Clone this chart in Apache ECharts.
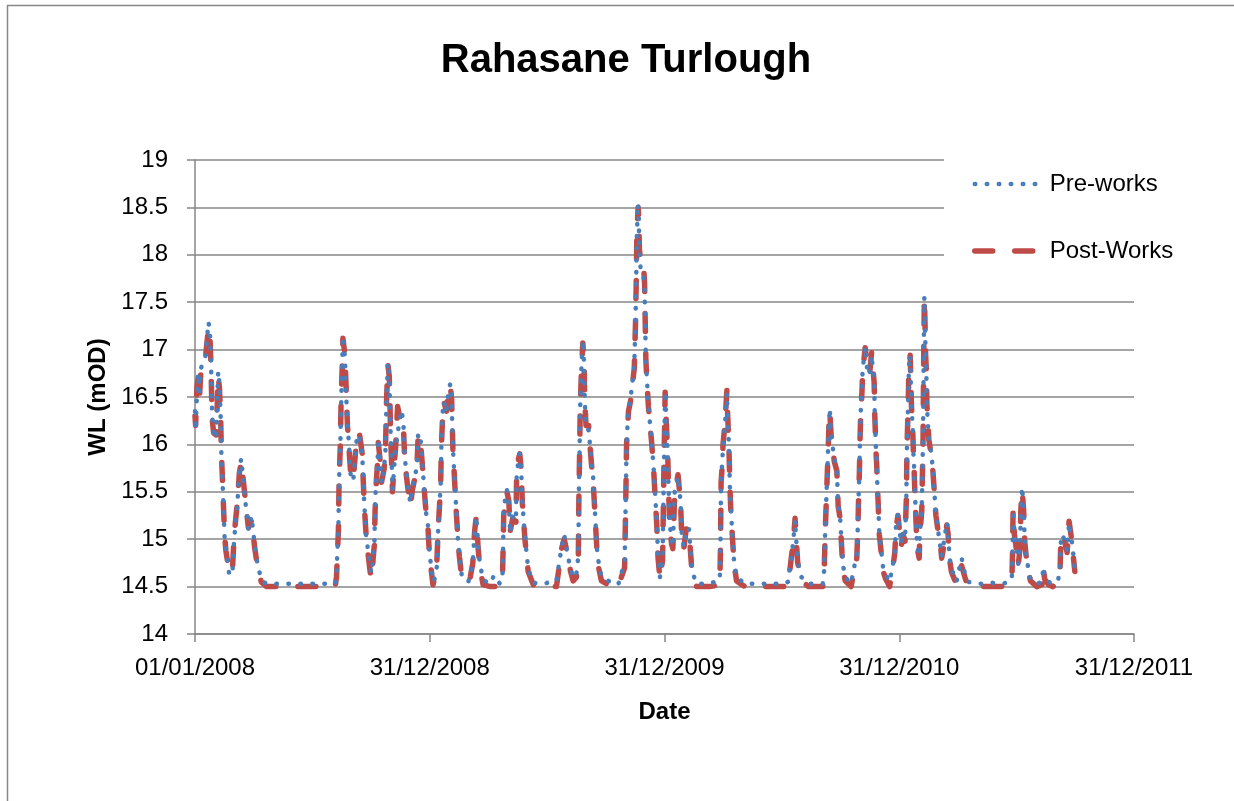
<!DOCTYPE html>
<html>
<head>
<meta charset="utf-8">
<title>Rahasane Turlough</title>
<script src="https://cdn.jsdelivr.net/npm/echarts@6/dist/echarts.min.js"></script>
<style>
  html, body { margin: 0; padding: 0; background: #ffffff; }
  #chart { width: 1234px; height: 801px; }
</style>
</head>
<body>
<div id="chart"></div>
<script>
// Day offsets from 01/01/2008 of each water-level reading
const days = [
  0,1,3,5,7,9,12,16,21,23,25,26,27,29,33,36,38,40,41,42,44,46,48,53,58,61,66,69,72,77,83,88,93,97,103,111,130,150,170,190,210,218,
  220,223,224,226,227,229,230,233,235,237,239,242,246,252,256,260,262,263,266,269,273,275,277,279,280,282,284,285,288,290,294,296,298,300,302,303,304,306,307,309,312,315,318,321,324,326,329,332,335,338,345,347,351,355,359,362,364,366,370,373,376,378,381,382,383,385,387,391,394,397,
  399,400,401,402,403,406,409,411,415,425,428,432,433,435,437,439,440,443,448,459,465,474,478,479,480,483,485,488,490,494,499,500,503,505,507,509,513,515,518,526,544,555,562,
  565,570,574,578,584,588,593,596,597,598,599,601,603,605,606,608,612,614,617,619,622,625,627,632,643,658,668,670,671,674,677,683,685,686,687,689,690,691,693,697,699,700,701,702,705,710,713,715,718,720,723,727,729,731,733,735,736,738,741,743,745,746,751,
  755,757,760,764,768,772,775,780,800,816,817,818,820,821,824,827,828,830,832,833,836,838,842,855,875,895,915,922,924,928,930,933,935,937,939,943,954,
  976,978,980,982,984,985,986,987,989,994,998,1000,1003,1006,1008,1011,1020,1029,1031,1032,1033,1034,1035,1037,1038,1042,1043,1045,1049,1052,1054,1056,1057,1059,1060,1061,1062,1064,1066,1070,1074,1080,1085,1088,1090,1093,1096,1098,1101,1104,1106,1107,1109,1110,1112,1113,1114,1116,1117,1118,1119,1120,1122,1123,1126,1127,1129,1130,1131,1132,1133,1134,1135,1136,1137,1138,1140,1141,1144,1147,1149,1152,1156,
  1158,1161,1164,1169,1171,1173,1176,1184,1189,1192,1197,1202,1220,1239,1257,1270,1271,1272,1274,1278,1280,1283,1284,1286,1288,1289,1290,1292,1296,1299,1309,1317,1319,1321,1327,1334,1342,1345,1346,1347,1352,1356,1359,1363,1365,1368
];

// Water level (mOD) before the works
const preWorks = [
  16.35,16.15,16.55,16.75,16.55,16.8,16.82,16.92,17.29,17.2,16.85,16.47,16.27,16.1,16.06,16.77,16.64,16.27,15.9,15.76,15.39,15.02,14.9,14.64,14.62,15.01,15.38,15.75,15.85,15.48,15.1,15.24,14.92,14.75,14.57,14.53,14.53,14.53,14.53,14.53,14.53,14.53,
  14.64,15.13,15.64,16.01,16.38,16.87,17.14,16.93,16.55,16.17,16.05,15.68,15.61,16.10,16.08,15.91,15.55,15.40,15.03,14.89,14.68,14.64,14.86,14.97,15.36,15.66,15.84,16.06,15.85,15.59,15.76,15.91,16.52,16.86,16.73,16.47,16.15,15.76,15.52,15.69,15.96,16.12,16.24,16.36,16.24,15.87,15.69,15.50,15.38,15.55,15.76,16.12,16.03,15.66,15.29,15.17,14.92,14.78,14.55,14.59,14.71,15.08,15.45,15.59,15.96,16.33,16.45,16.34,16.57,16.64,
  16.5,16.2,15.96,15.84,15.71,15.34,14.97,14.85,14.60,14.55,14.64,14.76,14.88,15.11,15.24,15.1,14.94,14.74,14.57,14.53,14.62,14.53,14.6,14.9,15.27,15.48,15.52,15.38,15.06,15.24,15.2,15.64,15.85,15.9,15.76,15.39,15.02,14.89,14.69,14.54,14.53,14.56,14.56,
  14.55,14.92,15.05,14.89,14.68,14.59,14.64,14.82,15.55,15.94,16.43,16.84,17.10,16.85,16.47,16.17,16.15,16.01,15.78,15.66,15.27,14.90,14.78,14.60,14.56,14.52,14.76,15.52,16.01,16.38,16.47,16.84,17.33,17.73,18.21,18.54,18.4,18.03,17.84,17.80,17.63,17.26,16.89,16.77,16.40,16.03,15.76,15.53,15.17,14.81,14.60,14.80,15.69,16.56,16.2,15.9,15.62,15.17,15.0,14.92,15.34,15.52,15.66,
  15.40,15.03,14.92,15.11,15.11,14.74,14.62,14.53,14.53,14.57,14.94,15.66,15.82,16.0,16.2,16.54,16.33,16.01,15.48,15.34,14.99,14.78,14.60,14.53,14.53,14.53,14.53,14.55,14.66,14.85,14.96,15.2,14.97,14.78,14.71,14.6,14.53,
  14.53,14.64,15.13,15.5,15.87,16.08,16.26,16.38,16.1,15.85,15.73,15.36,15.24,14.87,14.71,14.6,14.53,14.85,15.22,15.5,15.71,16.08,16.33,16.57,16.78,17.03,17.05,16.8,16.73,16.94,16.8,16.68,16.29,15.92,15.80,15.55,15.43,15.06,14.94,14.69,14.62,14.55,14.73,14.85,15.15,15.27,15.06,14.95,15.08,15.0,15.45,15.98,16.47,16.82,16.94,16.68,16.4,16.17,15.9,15.78,15.55,15.39,15.03,14.92,14.82,15.06,15.06,15.31,15.69,16.08,16.92,17.56,17.3,16.92,16.8,16.41,16.41,16.04,15.94,15.76,15.55,15.27,15.06,
  15.04,14.82,14.95,15.18,15.06,14.82,14.69,14.55,14.71,14.80,14.64,14.55,14.53,14.54,14.53,14.57,14.85,15.31,15.08,14.88,14.74,14.94,15.31,15.55,15.36,15.24,14.99,14.86,14.67,14.58,14.53,14.55,14.71,14.6,14.55,14.53,14.57,14.68,14.93,15.05,15.0,14.88,15.17,15.0,14.88,14.67
];

// Water level (mOD) after the works
const postWorks = [
  16.3,16.2,16.6,16.7,16.5,16.75,16.8,16.9,17.23,17.18,16.8,16.45,16.25,16.12,16.1,16.72,16.6,16.25,15.92,15.75,15.4,15.05,14.88,14.66,14.65,15.05,15.4,15.7,15.82,15.5,15.12,15.2,14.9,14.72,14.55,14.5,14.5,14.5,14.5,14.5,14.5,14.5,
  14.6,15.1,15.6,16.0,16.4,16.85,17.12,16.95,16.6,16.2,16.0,15.7,15.62,16.12,16.1,15.9,15.55,15.38,15.05,14.85,14.62,14.58,14.8,14.95,15.3,15.62,15.82,16.02,15.82,15.6,15.74,15.9,16.5,16.84,16.72,16.5,16.12,15.75,15.5,15.72,15.98,16.4,16.3,16.3,16.2,15.85,15.65,15.48,15.35,15.52,15.75,16.1,16.0,15.65,15.3,15.15,14.9,14.75,14.52,14.6,14.75,15.1,15.45,15.6,15.95,16.3,16.45,16.35,16.55,16.62,
  16.48,16.22,15.95,15.82,15.7,15.32,14.98,14.82,14.58,14.55,14.6,14.75,14.9,15.1,15.22,15.08,14.92,14.7,14.52,14.5,14.5,14.5,14.58,14.88,15.25,15.47,15.5,15.4,15.08,15.22,15.18,15.62,15.85,15.9,15.75,15.38,15.0,14.86,14.66,14.52,14.5,14.5,14.5,
  14.5,14.9,15.0,14.88,14.66,14.56,14.6,14.8,15.5,15.9,16.4,16.8,17.07,16.85,16.45,16.2,16.2,16.0,15.75,15.62,15.25,14.88,14.72,14.56,14.52,14.5,14.7,15.5,16.0,16.35,16.45,16.8,17.3,17.7,18.2,18.5,18.4,18.05,17.95,17.95,17.7,17.3,16.9,16.75,16.4,16.02,15.75,15.5,15.15,14.8,14.58,14.78,15.7,16.55,16.2,15.9,15.6,15.15,14.95,14.9,15.3,15.5,15.68,
  15.38,15.0,14.9,15.12,15.1,14.72,14.58,14.5,14.5,14.52,14.9,15.6,15.8,16.0,16.22,16.57,16.35,16.0,15.5,15.32,14.98,14.75,14.56,14.5,14.5,14.5,14.5,14.5,14.62,14.85,14.95,15.22,14.98,14.76,14.68,14.56,14.5,
  14.5,14.6,15.1,15.48,15.85,16.05,16.28,16.35,16.1,15.82,15.72,15.35,15.22,14.85,14.68,14.56,14.5,14.8,15.2,15.5,15.7,16.05,16.3,16.55,16.75,17.02,17.03,16.82,16.75,16.97,16.82,16.65,16.3,15.9,15.78,15.55,15.42,15.05,14.92,14.66,14.58,14.5,14.7,14.85,15.12,15.25,15.05,14.92,15.05,14.98,15.42,15.95,16.45,16.8,16.94,16.7,16.4,16.15,15.9,15.75,15.55,15.38,15.02,14.9,14.8,15.04,15.05,15.3,15.68,16.05,16.9,17.55,17.3,16.95,16.8,16.42,16.4,16.05,15.92,15.75,15.55,15.25,15.05,
  15.02,14.8,14.92,15.15,15.05,14.8,14.66,14.52,14.65,14.72,14.6,14.5,14.5,14.5,14.5,14.55,14.82,15.3,15.05,14.85,14.72,14.92,15.3,15.52,15.35,15.22,14.98,14.84,14.65,14.56,14.5,14.52,14.7,14.58,14.52,14.5,14.55,14.66,14.92,15.05,14.98,14.86,15.19,15.0,14.86,14.66
];

// Date labels at the 365-day x-axis ticks
const tickLabels = ['01/01/2008', '31/12/2008', '31/12/2009', '31/12/2010', '31/12/2011'];

const FONT = "'Liberation Sans', Arial, sans-serif";
const GRID_GREY = '#878787';
const BLUE = '#4A7EBB';
const RED = '#BE4B48';

const preStyle = { color: BLUE, width: 4.5, type: [0.5, 11.5], cap: 'round', join: 'round' };
const postStyle = { color: RED, width: 5.5, type: [18, 22], cap: 'round', join: 'round' };

const preData = days.map((d, i) => [d, preWorks[i]]);
const postData = days.map((d, i) => [d, postWorks[i]]);

const chart = echarts.init(document.getElementById('chart'), null, { renderer: 'canvas' });

chart.setOption({
  animation: false,
  backgroundColor: '#ffffff',
  textStyle: { fontFamily: FONT },
  graphic: [{
    type: 'rect',
    z: -10,
    silent: true,
    shape: { x: 7.5, y: 5.5, width: 1400, height: 1000 },
    style: { fill: 'none', stroke: GRID_GREY, lineWidth: 1.5 }
  }],
  title: {
    text: 'Rahasane Turlough',
    left: 621,
    top: 36,
    textAlign: 'center',
    textStyle: { fontFamily: FONT, fontWeight: 'bold', fontSize: 40, color: '#000' }
  },
  legend: {
    orient: 'vertical',
    left: 944,
    top: 156,
    padding: [14, 40, 22, 28],
    backgroundColor: '#ffffff',
    itemWidth: 63,
    itemHeight: 28,
    itemGap: 39,
    itemStyle: { opacity: 0 },
    textStyle: { fontFamily: FONT, fontSize: 24, lineHeight: 28, color: '#000', padding: [0, 0, 0, 7] },
    data: [
      { name: 'Pre-works', lineStyle: preStyle, itemStyle: { opacity: 0 } },
      { name: 'Post-Works', lineStyle: postStyle, itemStyle: { opacity: 0 } }
    ]
  },
  grid: { left: 195, right: 100, top: 160, bottom: 167, containLabel: false },
  xAxis: {
    type: 'value',
    min: 0,
    max: 1460,
    interval: 365,
    name: 'Date',
    nameLocation: 'middle',
    nameGap: 66,
    nameTextStyle: { fontFamily: FONT, fontWeight: 'bold', fontSize: 24, color: '#000' },
    axisLine: { show: true, lineStyle: { color: GRID_GREY, width: 1.5 } },
    axisTick: { show: true, length: 8, inside: false, lineStyle: { color: GRID_GREY, width: 1.5 } },
    splitLine: { show: false },
    axisLabel: {
      margin: 22,
      fontFamily: FONT,
      fontSize: 24,
      color: '#000',
      showMaxLabel: true,
      showMinLabel: true,
      formatter: v => tickLabels[Math.round(v / 365)]
    }
  },
  yAxis: {
    type: 'value',
    min: 14,
    max: 19,
    interval: 0.5,
    name: 'WL (mOD)',
    nameLocation: 'middle',
    nameGap: 80,
    nameTextStyle: { fontFamily: FONT, fontWeight: 'bold', fontSize: 24, color: '#000' },
    axisLine: { show: true, lineStyle: { color: GRID_GREY, width: 1.5 } },
    axisTick: { show: true, length: 8, inside: false, lineStyle: { color: GRID_GREY, width: 1.5 } },
    splitLine: { show: true, lineStyle: { color: GRID_GREY, width: 1.5 } },
    axisLabel: { margin: 27, fontFamily: FONT, fontSize: 24, color: '#000' }
  },
  series: [
    {
      name: 'Post-Works',
      type: 'line',
      data: postData,
      symbol: 'none',
      showSymbol: false,
      lineStyle: postStyle,
      itemStyle: { color: RED },
      z: 2
    },
    {
      name: 'Pre-works',
      type: 'line',
      data: preData,
      symbol: 'none',
      showSymbol: false,
      lineStyle: preStyle,
      itemStyle: { color: BLUE },
      z: 3
    }
  ]
});
</script>
</body>
</html>
